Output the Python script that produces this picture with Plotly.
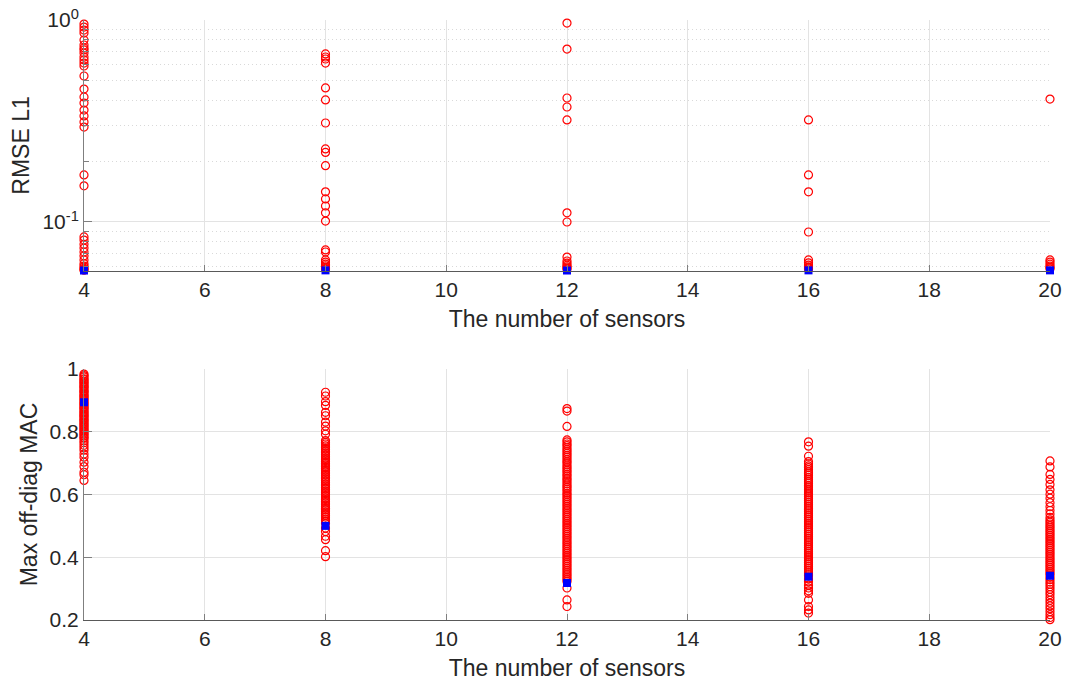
import plotly.graph_objects as go
from plotly.subplots import make_subplots

# ---------------- data ----------------
sensors = [4, 8, 12, 16, 20]

rmse_4 = [0.955, 0.923, 0.892, 0.862, 0.796, 0.752, 0.727, 0.711, 0.686, 0.656, 0.634,
          0.612, 0.592, 0.528, 0.455, 0.416, 0.388, 0.358, 0.335, 0.313, 0.295, 0.171,
          0.151, 0.0843, 0.0814, 0.0775, 0.0743, 0.0710, 0.0679, 0.0649, 0.0621, 0.0605,
          0.0591, 0.0583, 0.0577]
rmse_8 = [0.679, 0.656, 0.641, 0.612, 0.461, 0.402, 0.309, 0.230, 0.221, 0.190, 0.141,
          0.130, 0.120, 0.111, 0.101, 0.0727, 0.0710, 0.0649, 0.0633, 0.0618, 0.0607,
          0.0598, 0.0590, 0.0583]
rmse_12 = [0.966, 0.718, 0.411, 0.371, 0.320, 0.111, 0.100, 0.0670, 0.0641, 0.0625,
           0.0611, 0.0600, 0.0591, 0.0584]
rmse_16 = [0.320, 0.171, 0.141, 0.0892, 0.0649, 0.0628, 0.0612, 0.0600, 0.0592, 0.0585]
rmse_20 = [0.406, 0.0649, 0.0633, 0.0618, 0.0604, 0.0594, 0.0586]
rmse_best = [0.0575, 0.0576, 0.0575, 0.0576, 0.0576]

mac_4 = [0.984, 0.979, 0.975, 0.969, 0.966, 0.961, 0.957, 0.953, 0.948, 0.944, 0.941,
         0.936, 0.931, 0.928, 0.924, 0.919, 0.915, 0.912, 0.907, 0.903, 0.898, 0.894,
         0.889, 0.886, 0.881, 0.877, 0.873, 0.869, 0.864, 0.861, 0.856, 0.852, 0.849,
         0.844, 0.839, 0.836, 0.831, 0.827, 0.822, 0.818, 0.814, 0.809, 0.806, 0.801,
         0.796, 0.792, 0.787, 0.782, 0.779, 0.771, 0.765, 0.757, 0.749, 0.741, 0.729,
         0.719, 0.703, 0.689, 0.671, 0.663, 0.645]
mac_8 = [0.926, 0.914, 0.896, 0.884, 0.862, 0.851, 0.831, 0.818, 0.803, 0.792, 0.772,
         0.766, 0.761, 0.755, 0.749, 0.744, 0.738, 0.733, 0.727, 0.722, 0.716, 0.711,
         0.705, 0.699, 0.694, 0.689, 0.683, 0.677, 0.672, 0.666, 0.661, 0.655, 0.650,
         0.644, 0.639, 0.633, 0.628, 0.622, 0.617, 0.611, 0.606, 0.600, 0.595, 0.589,
         0.584, 0.578, 0.573, 0.567, 0.562, 0.556, 0.551, 0.545, 0.539, 0.534, 0.528,
         0.522, 0.516, 0.508, 0.493, 0.482, 0.467, 0.456, 0.421, 0.402]
mac_12 = [0.874, 0.866, 0.817, 0.774, 0.768, 0.761, 0.756, 0.749, 0.743, 0.737, 0.731,
          0.725, 0.719, 0.712, 0.706, 0.701, 0.694, 0.688, 0.682, 0.676, 0.671, 0.664,
          0.659, 0.652, 0.647, 0.641, 0.634, 0.628, 0.623, 0.617, 0.611, 0.604, 0.599,
          0.593, 0.587, 0.581, 0.575, 0.569, 0.563, 0.557, 0.551, 0.545, 0.539, 0.533,
          0.527, 0.521, 0.515, 0.509, 0.503, 0.497, 0.491, 0.485, 0.479, 0.473, 0.467,
          0.461, 0.455, 0.449, 0.443, 0.437, 0.431, 0.425, 0.419, 0.413, 0.407, 0.401,
          0.395, 0.389, 0.383, 0.377, 0.371, 0.365, 0.359, 0.353, 0.347, 0.341, 0.335,
          0.329, 0.323, 0.302, 0.264, 0.243]
mac_16 = [0.768, 0.754, 0.722, 0.705, 0.698, 0.691, 0.686, 0.679, 0.672, 0.667, 0.661,
          0.654, 0.648, 0.642, 0.636, 0.629, 0.624, 0.617, 0.611, 0.605, 0.599, 0.593,
          0.587, 0.581, 0.575, 0.569, 0.563, 0.557, 0.551, 0.545, 0.539, 0.533, 0.527,
          0.521, 0.515, 0.509, 0.503, 0.497, 0.491, 0.485, 0.479, 0.473, 0.467, 0.461,
          0.455, 0.449, 0.443, 0.437, 0.431, 0.425, 0.419, 0.413, 0.407, 0.401, 0.395,
          0.389, 0.383, 0.377, 0.371, 0.365, 0.359, 0.353, 0.347, 0.341, 0.331, 0.322,
          0.311, 0.302, 0.293, 0.285, 0.264, 0.243, 0.232, 0.222]
mac_20 = [0.707, 0.688, 0.664, 0.648, 0.632, 0.615, 0.601, 0.588, 0.574, 0.561, 0.549,
          0.538, 0.527, 0.519, 0.512, 0.506, 0.500, 0.494, 0.488, 0.482, 0.476, 0.470,
          0.464, 0.458, 0.452, 0.446, 0.440, 0.434, 0.428, 0.422, 0.416, 0.410, 0.404,
          0.398, 0.392, 0.386, 0.380, 0.374, 0.368, 0.362, 0.356, 0.350, 0.344, 0.336,
          0.329, 0.321, 0.314, 0.306, 0.298, 0.289, 0.281, 0.272, 0.263, 0.254, 0.245,
          0.236, 0.226, 0.217, 0.208, 0.201]
mac_best = [0.894, 0.500, 0.318, 0.338, 0.341]

x_ticks = [4, 6, 8, 10, 12, 14, 16, 18, 20]
mac_ticks = [0.2, 0.4, 0.6, 0.8, 1.0]
mac_ticktext = ["0.2", "0.4", "0.6", "0.8", "1"]
rmse_major = [0.1, 1.0]
rmse_major_text = ["10<sup>-1</sup>", "10<sup>0</sup>"]
rmse_minor = [0.06, 0.07, 0.08, 0.09, 0.2, 0.3, 0.4, 0.5, 0.6, 0.7, 0.8, 0.9]

# ---------------- figure ----------------
FONT = "Liberation Sans, Arial, Helvetica, sans-serif"
TXT = "#262626"
AX = "#7f7f7f"
RED = "#ff0000"
BLUE = "#0000ff"
TICK_SIZE = 21
TITLE_SIZE = 23

fig = make_subplots(rows=2, cols=1, vertical_spacing=0.1634)

def col_xy(cols, xs):
    X, Y = [], []
    for xv, vals in zip(xs, cols):
        X += [xv] * len(vals)
        Y += vals
    return X, Y

rx, ry = col_xy([rmse_4, rmse_8, rmse_12, rmse_16, rmse_20], sensors)
mx, my = col_xy([mac_4, mac_8, mac_12, mac_16, mac_20], sensors)

circle = dict(symbol="circle-open", size=8, color=RED, line=dict(width=1.2, color=RED))
square = dict(symbol="square", size=8, color=BLUE, line=dict(width=0))

fig.add_trace(go.Scatter(x=rx, y=ry, mode="markers", marker=circle, cliponaxis=False,
                         showlegend=False), row=1, col=1)
fig.add_trace(go.Scatter(x=sensors, y=rmse_best, mode="markers", marker=square,
                         cliponaxis=False, showlegend=False), row=1, col=1)
fig.add_trace(go.Scatter(x=mx, y=my, mode="markers", marker=circle, cliponaxis=False,
                         showlegend=False), row=2, col=1)
fig.add_trace(go.Scatter(x=sensors, y=mac_best, mode="markers", marker=square,
                         cliponaxis=False, showlegend=False), row=2, col=1)

xcommon = dict(range=[4, 20], tickvals=x_ticks, ticks="inside", ticklen=6,
               tickcolor=AX, showline=True, linecolor="#595959", linewidth=1,
               showgrid=True, gridcolor="#e3e3e3", gridwidth=1, zeroline=False,
               automargin=False,
               tickfont=dict(family=FONT, size=TICK_SIZE, color=TXT),
               title=dict(text="The number of sensors", standoff=10,
                          font=dict(family=FONT, size=TITLE_SIZE, color=TXT)))
fig.update_xaxes(**xcommon, row=1, col=1)
fig.update_xaxes(**xcommon, row=2, col=1)

fig.update_yaxes(type="log", range=[-1.2426, 0], tickvals=rmse_major,
                 ticktext=rmse_major_text, ticks="inside", ticklen=8, tickcolor=AX,
                 showline=True, linecolor=AX, linewidth=1, zeroline=False,
                 showgrid=True, gridcolor="#e3e3e3", gridwidth=1, automargin=False,
                 minor=dict(tickvals=rmse_minor, ticks="inside", ticklen=5, tickcolor=AX,
                            showgrid=True, gridcolor="#d9d9d9", griddash="1px,3px",
                            gridwidth=1),
                 tickfont=dict(family=FONT, size=TICK_SIZE, color=TXT),
                 title=dict(text="RMSE L1", standoff=6,
                            font=dict(family=FONT, size=TITLE_SIZE, color=TXT)),
                 row=1, col=1)
fig.update_yaxes(range=[0.2, 1.0], tickvals=mac_ticks, ticktext=mac_ticktext,
                 ticks="inside", ticklen=8, tickcolor=AX, showline=True, linecolor=AX,
                 linewidth=1, zeroline=False, showgrid=True, gridcolor="#e3e3e3",
                 gridwidth=1, automargin=False,
                 tickfont=dict(family=FONT, size=TICK_SIZE, color=TXT),
                 title=dict(text="Max off-diag MAC", standoff=5,
                            font=dict(family=FONT, size=TITLE_SIZE, color=TXT)),
                 row=2, col=1)

fig.update_layout(width=1071, height=684, margin=dict(l=84, r=21, t=20, b=64),
                  paper_bgcolor="white", plot_bgcolor="white",
                  font=dict(family=FONT, color=TXT))

fig.write_html("out.html")
